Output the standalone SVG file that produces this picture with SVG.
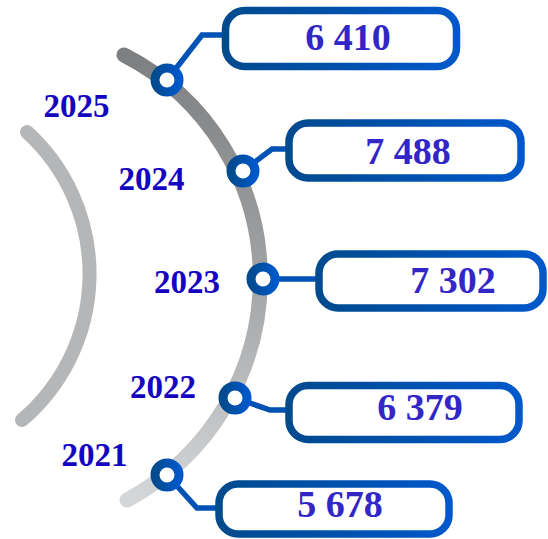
<svg xmlns="http://www.w3.org/2000/svg" width="548" height="539" viewBox="0 0 548 539">
<defs>
<linearGradient id="arcG" gradientUnits="userSpaceOnUse" x1="0" y1="55" x2="0" y2="500">
<stop offset="0" stop-color="#7e7f81"/>
<stop offset="0.5" stop-color="#a2a3a5"/>
<stop offset="1" stop-color="#d5d6d8"/>
</linearGradient>
<linearGradient id="blueG" x1="0" y1="0" x2="1" y2="0">
<stop offset="0" stop-color="#004a8e"/>
<stop offset="1" stop-color="#0058ca"/>
</linearGradient>
<style>
.arc{fill:none;stroke-linecap:round}
.box{fill:#fff;stroke:url(#blueG);stroke-width:7.5}
.dot{fill:#fff;stroke:url(#blueG);stroke-width:9}
.con{fill:none;stroke:#0052b4;stroke-width:5.5;stroke-linejoin:miter}
.yr{font-family:"Liberation Serif","Times New Roman",serif;font-weight:bold;font-size:33px;fill:#1403bf}
.val{font-family:"Liberation Serif","Times New Roman",serif;font-weight:bold;font-size:38px;fill:#3227c6;text-anchor:middle}
</style>
</defs>
<g id="arcs">
<path class="arc" d="M 27 132 A 192 192 0 0 1 22 420" stroke="#b5b6b8" stroke-width="14"/>
<path class="arc" d="M 124 55 A 251 251 0 0 1 127 500" stroke="url(#arcG)" stroke-width="15"/>
</g>
<g id="connectors">
<path class="con" d="M 167 80 L 202 35 L 228 35"/>
<path class="con" d="M 243 171 L 272 149 L 291 149"/>
<path class="con" d="M 263 279 L 321 279"/>
<path class="con" d="M 235 398 L 270 410 L 291 410"/>
<path class="con" d="M 167 475 L 197 508 L 221 508"/>
</g>
<g id="node-2025">
<rect class="box" x="225.5" y="10.5" width="231" height="56" rx="19"/>
<circle class="dot" cx="167" cy="80" r="12"/>
<text class="yr" x="43.5" y="116.5">2025</text>
<text class="val" x="348" y="50">6 410</text>
</g>
<g id="node-2024">
<rect class="box" x="289" y="123" width="232" height="55" rx="19"/>
<circle class="dot" cx="243" cy="171" r="12"/>
<text class="yr" x="118.5" y="190">2024</text>
<text class="val" x="408" y="164">7 488</text>
</g>
<g id="node-2023">
<rect class="box" x="319" y="254" width="224" height="54" rx="19"/>
<circle class="dot" cx="263" cy="279" r="12"/>
<text class="yr" x="154" y="292.5">2023</text>
<text class="val" x="453" y="293">7 302</text>
</g>
<g id="node-2022">
<rect class="box" x="289" y="385.5" width="230" height="54" rx="19"/>
<circle class="dot" cx="235" cy="398" r="12"/>
<text class="yr" x="130" y="398">2022</text>
<text class="val" x="420" y="420">6 379</text>
</g>
<g id="node-2021">
<rect class="box" x="219" y="484" width="230" height="50" rx="19"/>
<circle class="dot" cx="167" cy="475" r="12"/>
<text class="yr" x="61.5" y="466">2021</text>
<text class="val" x="340" y="516.5">5 678</text>
</g>
</svg>
